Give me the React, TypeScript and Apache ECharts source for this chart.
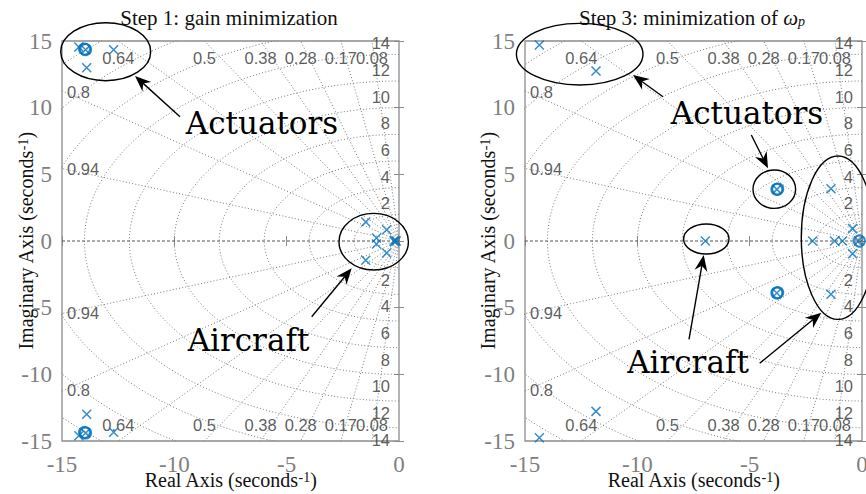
import React, { useEffect, useRef } from "react";
import * as echarts from "echarts";

// ---------- data ----------
const dampingRatios = [0.08, 0.17, 0.28, 0.38, 0.5, 0.64, 0.8, 0.94];
const dampingLabels = ["0.08", "0.17", "0.28", "0.38", "0.5", "0.64", "0.8", "0.94"];
const naturalFreqs = [2, 4, 6, 8, 10, 12, 14, 16, 18, 20];
const naturalFreqLabels = ["2", "4", "6", "8", "10", "12", "14"];
const axisRangeX = [-15, 0];
const axisRangeY = [-15, 15];
const tickStep = 5;

const titles = ["Step 1: gain minimization", "Step 3: minimization of {w|ω}{p|p}"];

// poles (x) and zeros (o), [real, imag]
const step1Poles: [number, number][] = [
  [-14.25, 14.55], [-14.25, -14.6],
  [-12.7, 14.35], [-12.7, -14.35],
  [-13.9, 13.0], [-13.9, -13.0],
  [-13.95, 14.35], [-13.95, -14.4],
  [-1.48, 1.43], [-1.48, -1.45],
  [-0.55, 0.85], [-0.55, -0.9],
  [-1.0, 0.22], [-1.0, -0.22],
  [-0.2, 0.06], [-0.2, -0.06], [-0.12, 0],
];
const step1Zeros: [number, number][] = [
  [-13.95, 14.35], [-14.0, 14.4],
  [-13.95, -14.4], [-14.0, -14.35],
];
const step3Poles: [number, number][] = [
  [-14.36, 14.7], [-14.36, -14.75],
  [-11.84, 12.75], [-11.84, -12.78],
  [-3.79, 3.87], [-3.79, -3.9],
  [-6.97, 0],
  [-1.38, 3.92], [-1.38, -4.0],
  [-0.42, 0.93], [-0.42, -0.95],
  [-2.2, 0], [-1.22, 0], [-0.87, 0], [-0.15, 0],
];
const step3Zeros: [number, number][] = [
  [-3.79, 3.87], [-3.75, 3.9],
  [-3.79, -3.9], [-3.75, -3.87],
  [-0.12, 0],
];

const panelPoles = [step1Poles, step3Poles];
const panelZeros = [step1Zeros, step3Zeros];

// ---------- layout / style ----------
const gridLefts = [62, 525];
const gridTop = 41;
const gridW = 337;
const gridH = 400;
const BLUE = "#0072BD";
const X_PATH = "path://M0,0L10,10M10,0L0,10";
const SERIF = "'Liberation Serif', 'Times New Roman', serif";
const SANS = "'Liberation Sans', Arial, sans-serif";
const BIG = "'DejaVu Serif', serif";

function arrow(x1: number, y1: number, x2: number, y2: number) {
  const dx = x2 - x1, dy = y2 - y1, len = Math.hypot(dx, dy);
  const ux = dx / len, uy = dy / len, nx = -uy, ny = ux;
  const L = 16, W = 6.5, N = 11;
  const bx = x2 - ux * L, by = y2 - uy * L;
  const cx = x2 - ux * N, cy = y2 - uy * N;
  return [
    { type: "line", silent: true, z: 100, shape: { x1, y1, x2: cx, y2: cy }, style: { stroke: "#000", lineWidth: 1.4 } },
    {
      type: "polygon", silent: true, z: 100,
      shape: { points: [[x2, y2], [bx + nx * W, by + ny * W], [cx, cy], [bx - nx * W, by - ny * W]] },
      style: { fill: "#000" },
    },
  ];
}

function ellipse(cx: number, cy: number, rx: number, ry: number) {
  return { type: "ellipse", silent: true, z: 100, shape: { cx, cy, rx, ry }, style: { fill: "none", stroke: "#000", lineWidth: 1.4 } };
}

function bigText(text: string, x: number, y: number) {
  return {
    type: "text", silent: true, z: 101, x, y,
    style: { text, fontFamily: BIG, fontSize: 31, fill: "#000", align: "center", verticalAlign: "middle" },
  };
}

function buildSeries(p: number) {
  const xi = p * 2, yi = p * 2;
  const series: any[] = [];
  const dotted = { color: "#7a7a7a", width: 1, type: [1, 2.2] };
  naturalFreqs.forEach((wn) => {
    const pts: number[][] = [];
    for (let a = 90; a <= 270.001; a += 1.5) {
      const t = (a * Math.PI) / 180;
      pts.push([wn * Math.cos(t), wn * Math.sin(t)]);
    }
    series.push({ type: "line", xAxisIndex: xi, yAxisIndex: yi, data: pts, symbol: "none", silent: true, clip: true, lineStyle: dotted, z: 1 });
  });
  dampingRatios.forEach((z) => {
    const s = Math.sqrt(1 - z * z);
    [1, -1].forEach((sg) => {
      series.push({
        type: "line", xAxisIndex: xi, yAxisIndex: yi, symbol: "none", silent: true, clip: true, lineStyle: dotted, z: 1,
        data: [[0, 0], [-z * 40, sg * s * 40]],
      });
    });
  });
  series.push({
    type: "line", xAxisIndex: xi, yAxisIndex: yi, symbol: "none", silent: true, clip: true, z: 2,
    lineStyle: { color: "#555", width: 1, type: [3, 2] },
    data: [[axisRangeX[0], 0], [0, 0]],
  });

  // grid labels
  const labelData: any[] = [];
  dampingRatios.forEach((z, k) => {
    const s = Math.sqrt(1 - z * z);
    const slope = z / s;
    if (slope <= 1) {
      const x = -slope * axisRangeY[1];
      labelData.push({ value: [x, axisRangeY[1]], label: { formatter: dampingLabels[k], align: "center", offset: [0, 17] } });
      labelData.push({ value: [x, axisRangeY[0]], label: { formatter: dampingLabels[k], align: "center", offset: [0, -16] } });
    } else {
      const y = -axisRangeX[0] / slope;
      labelData.push({ value: [axisRangeX[0], y], label: { formatter: dampingLabels[k], align: "left", offset: [5, 1] } });
      labelData.push({ value: [axisRangeX[0], -y], label: { formatter: dampingLabels[k], align: "left", offset: [5, -1] } });
    }
  });
  naturalFreqLabels.forEach((t, k) => {
    const wn = naturalFreqs[k];
    labelData.push({ value: [0, wn], label: { formatter: t, align: "right", offset: [-9, -11] } });
    labelData.push({ value: [0, -wn], label: { formatter: t, align: "right", offset: [-9, 12] } });
  });
  series.push({
    type: "scatter", xAxisIndex: xi, yAxisIndex: yi, silent: true, clip: false, z: 3,
    symbol: "circle", symbolSize: 1, itemStyle: { color: "rgba(0,0,0,0)" },
    label: { show: true, position: "inside", verticalAlign: "middle", fontFamily: SANS, fontSize: 16.5, color: "#333333" },
    data: labelData,
  });

  series.push({
    type: "scatter", xAxisIndex: xi, yAxisIndex: yi, silent: true, clip: true, z: 5,
    symbol: X_PATH, symbolSize: 9,
    itemStyle: { color: "rgba(0,0,0,0)", borderColor: BLUE, borderWidth: 1.5 },
    data: panelPoles[p],
  });
  series.push({
    type: "scatter", xAxisIndex: xi, yAxisIndex: yi, silent: true, clip: true, z: 6,
    symbol: "circle", symbolSize: 11,
    itemStyle: { color: "rgba(0,0,0,0)", borderColor: BLUE, borderWidth: 2 },
    data: panelZeros[p],
  });
  return series;
}

const supRich = {
  sup: { fontFamily: SERIF, fontSize: 14, color: "#111", verticalAlign: "top", lineHeight: 12 },
};

function mainX(p: number) {
  return {
    type: "value", gridIndex: p, min: axisRangeX[0], max: axisRangeX[1], interval: tickStep,
    axisLine: { show: false },
    axisTick: { show: true, inside: true, length: 5, lineStyle: { color: "#8c8c8c" } },
    splitLine: { show: false },
    axisLabel: { fontFamily: SERIF, fontSize: 23, color: "#7f7f7f", margin: 12 },
    name: "Real Axis (seconds{sup|-1})",
    nameLocation: "middle", nameGap: 29, nameMoveOverlap: false,
    nameTextStyle: { fontFamily: SERIF, fontSize: 20, color: "#111", rich: supRich },
  };
}
function topX(p: number) {
  return {
    type: "value", gridIndex: p, position: "top", min: axisRangeX[0], max: axisRangeX[1], interval: tickStep,
    axisLine: { show: false }, axisLabel: { show: false }, splitLine: { show: false },
    axisTick: { show: true, inside: true, length: 5, lineStyle: { color: "#8c8c8c" } },
  };
}
function mainY(p: number) {
  return {
    type: "value", gridIndex: p, min: axisRangeY[0], max: axisRangeY[1], interval: tickStep,
    axisLine: { show: false },
    axisTick: { show: true, inside: true, length: 5, lineStyle: { color: "#8c8c8c" } },
    splitLine: { show: false },
    axisLabel: { fontFamily: SERIF, fontSize: 23, color: "#7f7f7f", margin: 10 },
    name: "Imaginary Axis (seconds{sup|-1})",
    nameLocation: "middle", nameGap: p === 0 ? 26 : 27, nameMoveOverlap: false,
    nameTextStyle: { fontFamily: SERIF, fontSize: 20, color: "#111", rich: supRich },
  };
}
function rightY(p: number) {
  return {
    type: "value", gridIndex: p, position: "right", min: axisRangeY[0], max: axisRangeY[1], interval: tickStep,
    axisLine: { show: false }, axisLabel: { show: false }, splitLine: { show: false },
    axisTick: { show: true, inside: true, length: 5, lineStyle: { color: "#8c8c8c" } },
  };
}

export default function App() {
  const ref = useRef<HTMLDivElement>(null);
  useEffect(() => {
    const chart = echarts.init(ref.current!, undefined, { renderer: "svg" });
    const graphic: any[] = [
      {
        type: "text", silent: true, x: 229, y: 18,
        style: { text: titles[0], fontFamily: SERIF, fontSize: 21, fill: "#111", align: "center", verticalAlign: "middle" },
      },
      {
        type: "text", silent: true, x: 692, y: 18,
        style: {
          text: titles[1], fontFamily: SERIF, fontSize: 21, fill: "#111", align: "center", verticalAlign: "middle",
          rich: {
            w: { fontFamily: SERIF, fontSize: 21, fontStyle: "italic", fill: "#111" },
            p: { fontFamily: SERIF, fontSize: 14, fontStyle: "italic", fill: "#111", verticalAlign: "bottom", lineHeight: 10 },
          },
        },
      },
      // left panel annotations
      ellipse(105.7, 51.7, 45, 29),
      ellipse(373.7, 241.7, 34.7, 28.3),
      ...arrow(180, 116.7, 135, 76),
      ...arrow(311.7, 316.7, 351.7, 268.3),
      bigText("Actuators", 262, 123),
      bigText("Aircraft", 248.5, 340),
      // right panel annotations
      ellipse(579.7, 54.2, 63.3, 30.8),
      ellipse(774.3, 189.2, 21.3, 19.2),
      ellipse(706.3, 239, 22.7, 15),
      ellipse(838, 237.7, 36.7, 81.7),
      ...arrow(663, 96.7, 633, 75),
      ...arrow(751.3, 135, 768, 168.3),
      ...arrow(689, 339.3, 703.7, 255),
      ...arrow(759.7, 363.3, 821.3, 312.7),
      bigText("Actuators", 747, 113),
      bigText("Aircraft", 688, 361.7),
    ];
    chart.setOption({
      animation: false,
      backgroundColor: "#ffffff",
      grid: gridLefts.map((left) => ({
        left, top: gridTop, width: gridW, height: gridH, show: true,
        outerBoundsMode: "none", containLabel: false,
        borderColor: "#8c8c8c", borderWidth: 1.3, backgroundColor: "rgba(0,0,0,0)",
      })),
      xAxis: [mainX(0), topX(0), mainX(1), topX(1)],
      yAxis: [mainY(0), rightY(0), mainY(1), rightY(1)],
      series: [...buildSeries(0), ...buildSeries(1)],
      graphic,
    });
    return () => chart.dispose();
  }, []);
  return <div ref={ref} style={{ position: "absolute", left: 0, top: 0, width: 866, height: 494 }} />;
}
